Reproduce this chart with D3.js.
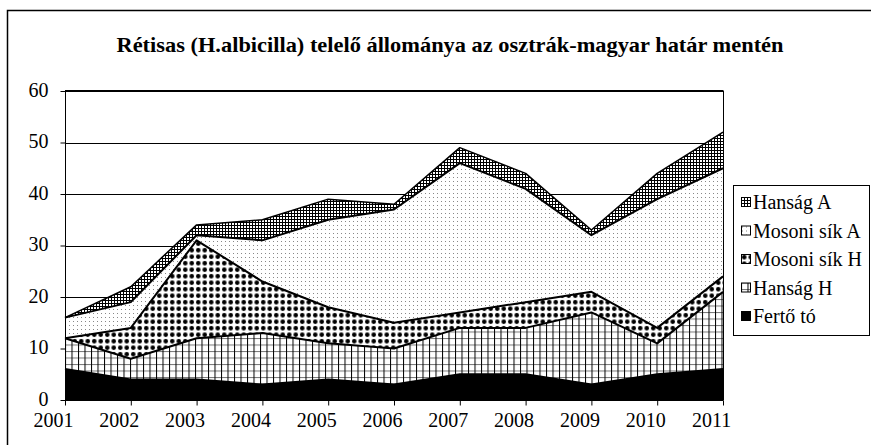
<!DOCTYPE html>
<html>
<head>
<meta charset="utf-8">
<script src="https://cdn.jsdelivr.net/npm/d3@7"></script>
<style>
  body { margin: 0; background: #fff; }
  svg { display: block; font-family: "Liberation Serif", "Times New Roman", serif; }
</style>
</head>
<body>
<div id="chart"></div>
<script>
let years = [2001, 2002, 2003, 2004, 2005, 2006, 2007, 2008, 2009, 2010, 2011]
let series_names = ["Fertő tó", "Hanság H", "Mosoni sík H", "Mosoni sík A", "Hanság A"]

let ferto_to     = [6, 4, 4, 3, 4, 3, 5, 5, 3, 5, 6]
let hansag_h     = [6, 4, 8, 10, 7, 7, 9, 9, 14, 6, 15]
let mosoni_sik_h = [0, 6, 19, 10, 7, 5, 3, 5, 4, 3, 3]
let mosoni_sik_a = [4, 5, 1, 8, 17, 22, 29, 22, 11, 25, 21]
let hansag_a     = [0, 3, 2, 4, 4, 1, 3, 3, 1, 5, 7]

let y_ticks = [0, 10, 20, 30, 40, 50, 60]
let title = "Rétisas (H.albicilla) telelő állománya az osztrák-magyar határ mentén"

let w = 871, h = 445
let plot = {left: 65, right: 723, top: 91, bottom: 400}

let table = years.map((yr, i) => ({
    year: yr,
    "Fertő tó": ferto_to[i],
    "Hanság H": hansag_h[i],
    "Mosoni sík H": mosoni_sik_h[i],
    "Mosoni sík A": mosoni_sik_a[i],
    "Hanság A": hansag_a[i]
}))

let stacked = d3.stack().keys(series_names)(table)

let x = d3.scalePoint().domain(years).range([plot.left, plot.right])
let y = d3.scaleLinear().domain([0, 60]).range([plot.bottom, plot.top])

let svg = d3.select("#chart").append("svg")
    .attr("width", w)
    .attr("height", h)

// patterns
let defs = svg.append("defs")

// fine grid (Hanság A)
let p1 = defs.append("pattern").attr("id", "pat-hansag-a")
    .attr("patternUnits", "userSpaceOnUse").attr("width", 3).attr("height", 3)
p1.append("rect").attr("width", 3).attr("height", 3).attr("fill", "#fff")
p1.append("rect").attr("x", 0).attr("y", 0).attr("width", 1).attr("height", 3).attr("fill", "#000")
p1.append("rect").attr("x", 0).attr("y", 0).attr("width", 3).attr("height", 1).attr("fill", "#000")

// sparse dots (Mosoni sík A)
let p2 = defs.append("pattern").attr("id", "pat-mosoni-a")
    .attr("patternUnits", "userSpaceOnUse").attr("width", 4).attr("height", 4)
p2.append("rect").attr("width", 4).attr("height", 4).attr("fill", "#fff")
p2.append("rect").attr("x", 1).attr("y", 1).attr("width", 1).attr("height", 1).attr("fill", "#888")

// big black dots (Mosoni sík H)
let p3 = defs.append("pattern").attr("id", "pat-mosoni-h")
    .attr("patternUnits", "userSpaceOnUse").attr("width", 6.5).attr("height", 6.5)
p3.append("rect").attr("width", 6.5).attr("height", 6.5).attr("fill", "#fff")
p3.append("circle").attr("cx", 3.25).attr("cy", 3.25).attr("r", 2.3).attr("fill", "#000")

// grid (Hanság H)
let p4 = defs.append("pattern").attr("id", "pat-hansag-h")
    .attr("patternUnits", "userSpaceOnUse").attr("width", 6.5).attr("height", 6.5)
p4.append("rect").attr("width", 6.5).attr("height", 6.5).attr("fill", "#fff")
p4.append("rect").attr("x", 0).attr("y", 0).attr("width", 6.5).attr("height", 1).attr("fill", "#777")
p4.append("rect").attr("x", 0).attr("y", 0).attr("width", 1).attr("height", 6.5).attr("fill", "#000")

let fills = {
    "Fertő tó": "#000",
    "Hanság H": "url(#pat-hansag-h)",
    "Mosoni sík H": "url(#pat-mosoni-h)",
    "Mosoni sík A": "url(#pat-mosoni-a)",
    "Hanság A": "url(#pat-hansag-a)"
}

// outer frame
svg.append("rect")
    .attr("x", 7.5).attr("y", 10.5)
    .attr("width", 880).attr("height", 460)
    .attr("fill", "none").attr("stroke", "#000").attr("stroke-width", 1.5)

// title
svg.append("text")
    .attr("x", 450).attr("y", 52)
    .attr("text-anchor", "middle")
    .attr("font-weight", "bold")
    .attr("font-size", 21)
    .attr("textLength", 667)
    .attr("lengthAdjust", "spacingAndGlyphs")
    .text(title)

// gridlines
svg.append("g").selectAll("line")
    .data(y_ticks.filter(d => d > 0))
    .enter().append("line")
    .attr("x1", plot.left).attr("x2", plot.right)
    .attr("y1", d => Math.round(y(d)) + 0.5).attr("y2", d => Math.round(y(d)) + 0.5)
    .attr("stroke", "#000").attr("stroke-width", 1)

// areas
let area = d3.area()
    .x(d => x(d.data.year))
    .y0(d => y(d[0]))
    .y1(d => y(d[1]))

let line = d3.line()
    .x(d => x(d.data.year))
    .y(d => y(d[1]))

svg.append("g").selectAll("path")
    .data(stacked)
    .enter().append("path")
    .attr("d", area)
    .attr("fill", d => fills[d.key])

svg.append("g").selectAll("path")
    .data(stacked)
    .enter().append("path")
    .attr("d", line)
    .attr("fill", "none")
    .attr("stroke", "#000")
    .attr("stroke-width", d => d.key == "Hanság A" ? 1.5 : 2)
    .attr("stroke-linejoin", "round")

// plot border
svg.append("rect")
    .attr("x", plot.left + 0.5).attr("y", plot.top)
    .attr("width", plot.right - plot.left).attr("height", plot.bottom - plot.top)
    .attr("fill", "none").attr("stroke", "#000").attr("stroke-width", 1)
svg.append("line")
    .attr("x1", plot.left).attr("x2", plot.right)
    .attr("y1", plot.top).attr("y2", plot.top)
    .attr("stroke", "#000").attr("stroke-width", 2)

// axes
let y_axis = d3.axisLeft(y).tickValues(y_ticks).tickSize(5).tickPadding(6)
let gy = svg.append("g").attr("transform", `translate(${plot.left + 0.5},0)`).call(y_axis)
gy.select(".domain").remove()
gy.selectAll("text").attr("font-size", 20).attr("font-family", "Liberation Serif").attr("fill", "#000")
    .attr("x", -17).attr("dy", "0.25em").attr("text-anchor", "end")

let x_axis = d3.axisBottom(x).tickSize(5).tickPadding(7)
let gx = svg.append("g").attr("transform", `translate(0,${plot.bottom + 0.5})`).call(x_axis)
gx.select(".domain").attr("d", `M${plot.left},0H${plot.right}`)
gx.selectAll("text").attr("font-size", 20).attr("font-family", "Liberation Serif").attr("fill", "#000")
    .attr("dx", -12)

// legend
let legend = svg.append("g")
legend.append("rect")
    .attr("x", 733.5).attr("y", 185.5)
    .attr("width", 136).attr("height", 150)
    .attr("fill", "#fff").attr("stroke", "#000").attr("stroke-width", 1)

let legend_items = series_names.slice().reverse()
let lg = legend.selectAll(".lg")
    .data(legend_items)
    .enter().append("g")
    .attr("transform", (d, i) => `translate(741, ${197 + i * 28.5})`)

lg.append("rect")
    .attr("x", 0.5).attr("y", 0.5)
    .attr("width", 9).attr("height", 9)
    .attr("fill", d => fills[d])
    .attr("stroke", "#000").attr("stroke-width", 1)

lg.append("text")
    .attr("x", 12).attr("y", 12)
    .attr("font-size", 20)
    .text(d => d)
</script>
</body>
</html>
